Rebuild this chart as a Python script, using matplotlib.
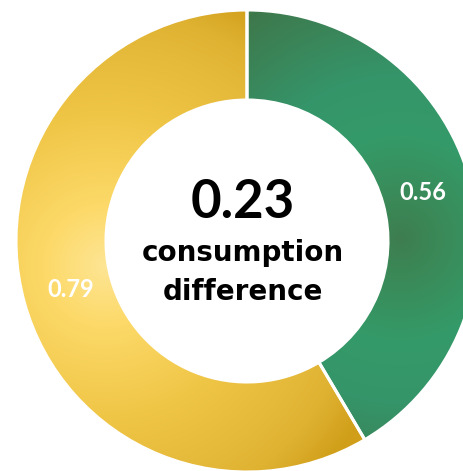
import numpy as np
import matplotlib
matplotlib.use("Agg")
import matplotlib.pyplot as plt
from matplotlib.colors import LinearSegmentedColormap

# data
values = [0.56, 0.79]
slice_names = ["green", "yellow"]
center_value = "0.23"
center_lines = ["consumption", "difference"]

W, H = 464, 471
CX, CY = 247, H - 241   # donut centre in pixel-like data units
R_OUT, R_IN = 231, 141

plt.rcParams["font.family"] = ["Lato", "DejaVu Sans"]

fig = plt.figure(figsize=(W / 100, H / 100), dpi=100)
ax = fig.add_axes([0, 0, 1, 1])

total = sum(values)
wedges, _, autotexts = ax.pie(
    values, center=(CX, CY), radius=R_OUT, startangle=90, counterclock=False,
    colors=["none", "none"], autopct=lambda p: f"{p * total / 100:.2f}",
    pctdistance=0.79, frame=True,
    wedgeprops=dict(width=R_OUT - R_IN, edgecolor="white", linewidth=2.2),
    textprops=dict(color="white", fontsize=17, fontweight="bold"))
ax.set_xlim(0, W)
ax.set_ylim(0, H)
ax.set_aspect("equal")
ax.axis("off")

# radial gradients, in image pixel coordinates (y down)
yy, xx = np.mgrid[0:H, 0:W]

def radial(cx, cy):
    return np.hypot(xx - cx, yy - cy)

green_cmap = LinearSegmentedColormap.from_list(
    "g", [(0, "#3e7d50"), (0.15, "#3a8a58"), (0.38, "#349a68"),
          (0.6, "#35956a"), (1.0, "#3e784b")])
yellow_cmap = LinearSegmentedColormap.from_list(
    "y", [(0, "#fee594"), (0.2, "#fcd968"), (0.5, "#f0c647"),
          (0.85, "#dfb232"), (1.0, "#d09e18")])

grads = {
    "green": (radial(400, 238) / 270, green_cmap),
    "yellow": (radial(105, 265) / 300, yellow_cmap),
}

for wedge, name in zip(wedges, slice_names):
    d, cmap = grads[name]
    im = ax.imshow(np.clip(d, 0, 1), cmap=cmap, vmin=0, vmax=1,
                   extent=(0, W, 0, H), origin="upper", zorder=0,
                   interpolation="bilinear")
    im.set_clip_path(wedge)
    wedge.set_zorder(2)

for t in autotexts:
    t.set_zorder(3)

ax.text(CX - 4, H - 203, center_value, ha="center", va="center",
        fontsize=38, fontweight="bold", color="black")
for i, line in enumerate(center_lines):
    ax.text(CX - 4, H - 253 - 39 * i, line, ha="center", va="center",
            fontsize=20, fontweight="bold", color="black",
            family="DejaVu Sans")

fig.savefig("out.png", dpi=100, facecolor="white")
